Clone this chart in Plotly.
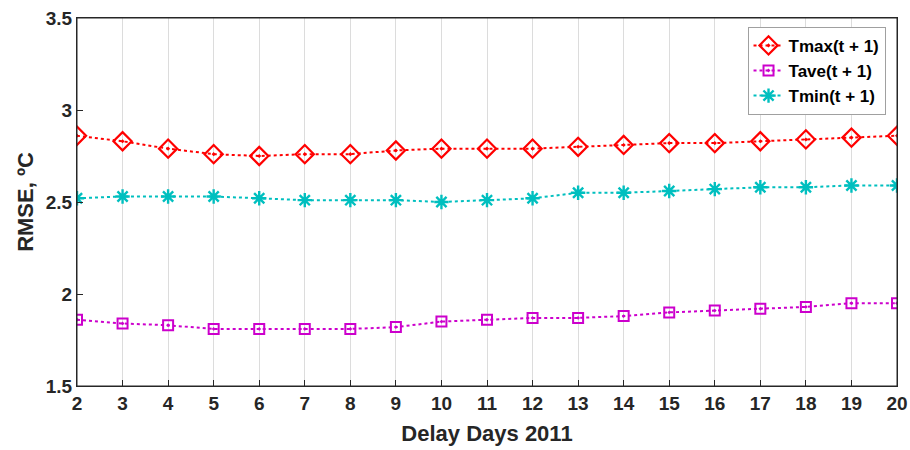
import plotly.graph_objects as go

delay_days = list(range(2, 21))
tmax = [2.86, 2.83, 2.79, 2.76, 2.75, 2.76, 2.76, 2.78, 2.79, 2.79, 2.79, 2.80, 2.81, 2.82, 2.82, 2.83, 2.84, 2.85, 2.86]
tave = [1.86, 1.84, 1.83, 1.81, 1.81, 1.81, 1.81, 1.82, 1.85, 1.86, 1.87, 1.87, 1.88, 1.90, 1.91, 1.92, 1.93, 1.95, 1.95]
tmin = [2.52, 2.53, 2.53, 2.53, 2.52, 2.51, 2.51, 2.51, 2.50, 2.51, 2.52, 2.55, 2.55, 2.56, 2.57, 2.58, 2.58, 2.59, 2.59]
y_ticks = [1.5, 2, 2.5, 3, 3.5]
y_tick_labels = ["1.5", "2", "2.5", "3", "3.5"]

FONT = "Liberation Sans, Arial, sans-serif"

fig = go.Figure()
fig.add_trace(go.Scatter(
    x=delay_days, y=tmax, name="<b>Tmax(t + 1)</b>", mode="lines+markers",
    line=dict(color="#FF0000", dash="dot", width=2),
    marker=dict(symbol="diamond-open-dot", size=14, color="#FF0000", line=dict(width=2.2)),
))
fig.add_trace(go.Scatter(
    x=delay_days, y=tave, name="<b>Tave(t + 1)</b>", mode="lines+markers",
    line=dict(color="#CC00CC", dash="dot", width=2),
    marker=dict(symbol="square-open-dot", size=10, color="#CC00CC", line=dict(width=2)),
))
fig.add_trace(go.Scatter(
    x=delay_days, y=tmin, name="<b>Tmin(t + 1)</b>", mode="lines+markers",
    line=dict(color="#00BFBF", dash="dot", width=2),
    marker=dict(symbol="asterisk-open", size=12, color="#00BFBF", line=dict(width=2.4, color="#00BFBF")),
))

fig.update_layout(
    width=910, height=450,
    margin=dict(l=77, r=13, t=18, b=64),
    paper_bgcolor="white", plot_bgcolor="white",
    font=dict(family=FONT, size=19, color="#262626"),
    showlegend=True,
    legend=dict(
        x=0.986, y=0.976, xanchor="right", yanchor="top",
        bgcolor="white", bordercolor="#A0A0A0", borderwidth=1,
        font=dict(family=FONT, size=17, color="black"),
        tracegroupgap=0, itemwidth=30,
    ),
    xaxis=dict(
        range=[2, 20], tickmode="array", tickvals=delay_days,
        ticktext=[f"<b>{d}</b>" for d in delay_days],
        showgrid=True, gridcolor="#DCDCDC", gridwidth=1,
        showline=True, linecolor="#262626", linewidth=1, mirror=True,
        ticks="inside", ticklen=6, tickcolor="#262626",
        title=dict(text="<b>Delay Days 2011</b>", font=dict(size=22), standoff=12),
        zeroline=False, automargin=False, ticklabeloverflow="allow",
    ),
    yaxis=dict(
        range=[1.5, 3.5], tickmode="array", tickvals=y_ticks,
        ticktext=[f"<b>{t}</b>" for t in y_tick_labels],
        showgrid=False,
        showline=True, linecolor="#262626", linewidth=1, mirror=True,
        ticks="inside", ticklen=6, tickcolor="#262626",
        title=dict(text="<b>RMSE, ºC</b>", font=dict(size=22), standoff=6),
        zeroline=False, automargin=False, ticklabeloverflow="allow",
    ),
    shapes=[dict(
        type="rect", xref="paper", yref="paper", x0=0, x1=1, y0=0, y1=1,
        line=dict(color="#262626", width=1), fillcolor="rgba(0,0,0,0)", layer="above",
    )],
)

# remove the default 8px page margin so the 910x450 figure fills the window exactly
fig.write_html(
    "out.html",
    config={"displayModeBar": False},
    post_script="document.body.style.margin='0px';document.body.style.overflow='hidden';",
)
